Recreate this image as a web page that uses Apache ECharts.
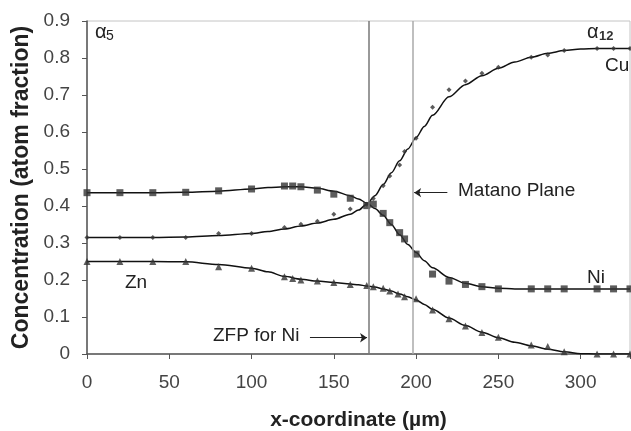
<!DOCTYPE html>
<html>
<head>
<meta charset="utf-8">
<script src="https://cdn.jsdelivr.net/npm/echarts@6/dist/echarts.min.js"></script>
<style>html,body{margin:0;padding:0;background:#fff;}#c{width:631px;height:431px;}</style>
</head>
<body>
<div id="c"></div>
<script>
// x tick labels
const xTicks = [0, 50, 100, 150, 200, 250, 300];
// measured points
const niX = [0,20,40,60,80,100,120,125,130,140,150,160,170,174,180,184,190,193,200,210,220,230,240,250,270,280,290,310,320,330];
const niY = [0.436,0.436,0.436,0.437,0.441,0.446,0.454,0.454,0.452,0.443,0.432,0.421,0.401,0.405,0.380,0.355,0.328,0.311,0.270,0.216,0.197,0.188,0.182,0.176,0.176,0.176,0.176,0.176,0.176,0.176];
const cuX = [0,20,40,60,80,100,120,130,140,150,160,170,174,180,184,190,193,200,210,220,230,240,250,270,280,290,310,320,330];
const cuY = [0.315,0.315,0.315,0.315,0.326,0.326,0.342,0.351,0.359,0.378,0.392,0.405,0.420,0.455,0.481,0.511,0.547,0.583,0.667,0.714,0.738,0.759,0.775,0.802,0.808,0.820,0.826,0.826,0.826];
const znX = [0,20,40,60,80,100,120,125,130,140,150,160,170,174,180,184,189,193,200,210,220,230,240,250,270,280,290,310,320,330];
const znY = [0.250,0.250,0.250,0.250,0.236,0.232,0.209,0.204,0.200,0.197,0.193,0.188,0.185,0.182,0.178,0.170,0.162,0.155,0.149,0.119,0.095,0.076,0.058,0.045,0.024,0.020,0.006,0,0,0];
// fitted curves
const fitX  = [0,20,40,60,80,100,110,120,130,140,150,160,165,170,175,180,185,190,195,200,205,210,220,230,240,250,260,270,280,290,300,310,320,330];
const niFit = [0.436,0.436,0.436,0.437,0.440,0.446,0.450,0.452,0.452,0.448,0.440,0.428,0.419,0.408,0.393,0.375,0.350,0.322,0.296,0.274,0.252,0.233,0.207,0.191,0.182,0.178,0.176,0.176,0.176,0.176,0.176,0.176,0.176,0.176];
const cuFit = [0.315,0.315,0.315,0.316,0.320,0.326,0.331,0.338,0.346,0.354,0.364,0.378,0.389,0.405,0.428,0.458,0.490,0.522,0.554,0.585,0.615,0.645,0.695,0.728,0.752,0.772,0.789,0.802,0.813,0.820,0.824,0.826,0.826,0.826];
const znFit = [0.250,0.250,0.250,0.249,0.242,0.232,0.222,0.210,0.202,0.197,0.193,0.189,0.187,0.184,0.181,0.176,0.170,0.162,0.155,0.146,0.134,0.121,0.097,0.077,0.059,0.044,0.032,0.022,0.013,0.006,0.001,0,0,0];
// reference planes
const zfpX = 171;
const matanoX = 198;

const pairs = (xs, ys) => xs.map((x, i) => [x, ys[i]]);
const FONT = 'Liberation Sans';
const chart = echarts.init(document.getElementById('c'), null, {renderer: 'canvas'});

const lineSeries = (name, ys, extra) => Object.assign({
  name, type: 'line', data: pairs(fitX, ys), showSymbol: false, smooth: 0.3, smoothMonotone: 'x',
  lineStyle: {color: '#111', width: 1.5}, z: 3, silent: true
}, extra || {});

const option = {
  animation: false,
  backgroundColor: '#fff',
  grid: {left: 87, top: 21, right: 1, bottom: 77, show: true, borderColor: '#c4c4c4', borderWidth: 1,
    containLabel: false, outerBoundsMode: 'none'},
  xAxis: {
    type: 'value', min: 0, max: 330, interval: 50,
    axisLine: {onZero: false, lineStyle: {color: '#555', width: 1.5}},
    axisTick: {length: 5, lineStyle: {color: '#555'}},
    axisLabel: {fontFamily: FONT, fontSize: 19, color: '#444', margin: 19,
      formatter: v => xTicks.indexOf(v) >= 0 ? String(v) : ''},
    splitLine: {show: false},
    name: 'x-coordinate (µm)', nameLocation: 'middle', nameGap: 56,
    nameTextStyle: {fontFamily: FONT, fontWeight: 'bold', fontSize: 21, color: '#222'}
  },
  yAxis: {
    type: 'value', min: 0, max: 0.9, interval: 0.1,
    axisLine: {onZero: false, lineStyle: {color: '#555', width: 1.5}},
    axisTick: {length: 5, lineStyle: {color: '#555'}},
    axisLabel: {fontFamily: FONT, fontSize: 19, color: '#444', margin: 17,
      formatter: v => v === 0 ? '0' : v.toFixed(1)},
    splitLine: {show: false},
    name: 'Concentration (atom fraction)', nameLocation: 'middle', nameGap: 53,
    nameTextStyle: {fontFamily: FONT, fontWeight: 'bold', fontSize: 23, color: '#222'}
  },
  series: [
    lineSeries('Ni fit', niFit),
    lineSeries('Cu fit', cuFit),
    lineSeries('Zn fit', znFit, {
      markLine: {
        silent: true, symbol: 'none', label: {show: false}, animation: false,
        data: [
          {xAxis: zfpX, lineStyle: {color: '#777', width: 1.5, type: 'solid'}},
          {xAxis: matanoX, lineStyle: {color: '#aaa', width: 1.5, type: 'solid'}},
          [{coord: [219, 0.436], symbol: 'none', lineStyle: {color: '#222', width: 1, type: 'solid'}},
           {coord: [matanoX + 0.8, 0.436], symbol: 'arrow', symbolSize: 7}],
          [{coord: [135.5, 0.044], symbol: 'none', lineStyle: {color: '#222', width: 1, type: 'solid'}},
           {coord: [zfpX - 0.8, 0.044], symbol: 'arrow', symbolSize: 7}]
        ]
      }
    }),
    {name: 'Ni', type: 'scatter', data: pairs(niX, niY), symbol: 'rect', symbolSize: 7,
      itemStyle: {color: '#333'}, z: 4},
    {name: 'Cu', type: 'scatter', data: pairs(cuX, cuY), symbol: 'diamond', symbolSize: 5,
      itemStyle: {color: '#333'}, z: 4},
    {name: 'Zn', type: 'scatter', data: pairs(znX, znY), symbol: 'triangle', symbolSize: 7,
      itemStyle: {color: '#333'}, z: 4}
  ],
  graphic: [
    {type: 'text', left: 95, top: 22, style: {text: 'α', font: '20px "' + FONT + '"', fill: '#222'}},
    {type: 'text', left: 106, top: 29, style: {text: '5', font: '14px "' + FONT + '"', fill: '#222'}},
    {type: 'text', left: 587, top: 22, style: {text: 'α', font: '20px "' + FONT + '"', fill: '#222'}},
    {type: 'text', left: 599, top: 30, style: {text: '12', font: 'bold 13px "' + FONT + '"', fill: '#333'}},
    {type: 'text', left: 605, top: 56, style: {text: 'Cu', font: '19px "' + FONT + '"', fill: '#222'}},
    {type: 'text', left: 587, top: 268, style: {text: 'Ni', font: '19px "' + FONT + '"', fill: '#222'}},
    {type: 'text', left: 125, top: 273, style: {text: 'Zn', font: '19px "' + FONT + '"', fill: '#222'}},
    {type: 'text', left: 458, top: 181, style: {text: 'Matano Plane', font: '19px "' + FONT + '"', fill: '#222'}},
    {type: 'text', left: 213, top: 326, style: {text: 'ZFP for Ni', font: '19px "' + FONT + '"', fill: '#222'}}
  ]
};
chart.setOption(option);
</script>
</body>
</html>
